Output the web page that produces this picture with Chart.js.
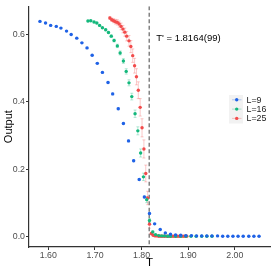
<!DOCTYPE html>
<html><head><meta charset="utf-8">
<script src="https://cdn.jsdelivr.net/npm/chart.js@4/dist/chart.umd.min.js"></script>
<style>html,body{margin:0;padding:0;background:#fff;}canvas{display:block;}</style>
</head><body>
<canvas id="c" width="273" height="273"></canvas>
<script>
const seriesLabels = ['L=9', 'L=16', 'L=25'];

const blueT = [1.582,1.594,1.605,1.617,1.627,1.639,1.649,1.661,1.672,1.683,1.694,1.705,1.716,1.728,1.738,1.750,1.761,1.772,1.783,1.795,1.806,1.817,1.828,1.840,1.851,1.862,1.873,1.884,1.895,1.907,1.918,1.929,1.940,1.951,1.963,1.974,1.985,1.996,2.007,2.018,2.030,2.041,2.052];
const blueOut = [0.640,0.635,0.628,0.625,0.620,0.611,0.601,0.590,0.576,0.561,0.539,0.515,0.488,0.458,0.424,0.380,0.336,0.284,0.225,0.169,0.117,0.068,0.037,0.020,0.010,0.006,0.004,0.003,0.002,0.002,0.001,0.001,0.001,0.001,0.001,0.000,0.000,0.000,0.000,0.000,0.000,0.000,0.000];
const blueErr = [0.001,0.001,0.001,0.001,0.001,0.001,0.001,0.001,0.001,0.002,0.002,0.002,0.002,0.002,0.003,0.003,0.003,0.003,0.003,0.003,0.003,0.003,0.002,0.001,0.001,0.001,0.001,0.001,0.001,0.001,0.001,0.001,0.001,0.001,0.001,0.001,0.001,0.001,0.001,0.001,0.001,0.001,0.001];

const greenT = [1.685,1.691,1.698,1.704,1.710,1.716,1.723,1.729,1.735,1.741,1.748,1.754,1.761,1.767,1.773,1.779,1.786,1.792,1.798,1.804,1.811,1.817,1.824,1.830,1.837,1.843,1.849,1.856,1.862,1.873,1.884,1.895,1.906,1.917,1.929,1.940,1.951];
const greenOut = [0.641,0.642,0.638,0.635,0.628,0.621,0.615,0.607,0.596,0.583,0.567,0.546,0.522,0.491,0.457,0.416,0.365,0.314,0.248,0.177,0.109,0.047,0.013,0.005,0.002,0.001,0.001,0.000,0.000,0.000,0.000,0.000,0.000,0.000,0.000,0.000,0.000];
const greenErr = [0.002,0.002,0.002,0.002,0.002,0.002,0.003,0.003,0.004,0.004,0.005,0.006,0.007,0.008,0.009,0.010,0.011,0.012,0.012,0.011,0.009,0.006,0.003,0.001,0.001,0.001,0.001,0.001,0.001,0.001,0.001,0.001,0.001,0.001,0.001,0.001,0.001];

const redT = [1.732,1.736,1.740,1.744,1.748,1.752,1.756,1.760,1.764,1.768,1.773,1.777,1.781,1.785,1.789,1.793,1.797,1.801,1.805,1.809,1.813,1.817,1.821,1.825,1.829,1.833,1.837,1.841,1.845,1.849,1.853,1.857,1.861,1.865,1.869,1.873,1.877,1.881,1.885,1.889,1.893,1.897];
const redOut = [0.650,0.645,0.642,0.639,0.637,0.632,0.625,0.617,0.608,0.596,0.582,0.565,0.538,0.508,0.475,0.435,0.384,0.323,0.260,0.187,0.114,0.036,0.008,0.003,0.001,0.001,0.000,0.000,0.000,0.000,0.000,0.000,0.000,0.000,0.000,0.000,0.000,0.000,0.000,0.000,0.000,0.000];
const redErr = [0.004,0.005,0.006,0.007,0.008,0.009,0.010,0.011,0.012,0.014,0.016,0.018,0.020,0.022,0.024,0.025,0.026,0.027,0.027,0.025,0.020,0.012,0.004,0.002,0.001,0.001,0.001,0.001,0.001,0.001,0.001,0.001,0.001,0.001,0.001,0.001,0.001,0.001,0.001,0.001,0.001,0.001];

const xTicks = [1.60, 1.70, 1.80, 1.90, 2.00];
const yTicks = [0.0, 0.2, 0.4, 0.6];
const tPrime = 1.8164;
const tPrimeLabel = "T' = 1.8164(99)";
const labelOutputAt = 0.589;

const colors = ['#1f62e6', '#14b87c', '#f24b4b'];
const errColors = ['rgba(31,98,230,0.3)', 'rgba(20,184,124,0.3)', 'rgba(242,75,75,0.3)'];
const FONT = "'Liberation Sans', Arial, sans-serif";

function mk(T, O, E) { return T.map((t, i) => ({x: t, y: O[i], e: E[i]})); }
const series = [mk(blueT, blueOut, blueErr), mk(greenT, greenOut, greenErr), mk(redT, redOut, redErr)];

const extras = {
  id: 'extras',
  beforeDatasetsDraw(chart) {
    const {ctx, chartArea: a, scales: {x, y}} = chart;
    ctx.save();
    ctx.beginPath(); ctx.rect(a.left, a.top, a.right - a.left, a.bottom - a.top); ctx.clip();
    // error bars
    chart.data.datasets.forEach((ds, i) => {
      ctx.strokeStyle = errColors[i]; ctx.lineWidth = 1;
      ds.data.forEach(p => {
        if (!p.e) return;
        const px = x.getPixelForValue(p.x);
        const y1 = y.getPixelForValue(p.y - p.e), y2 = y.getPixelForValue(p.y + p.e);
        ctx.beginPath();
        ctx.moveTo(px, y1); ctx.lineTo(px, y2);
        ctx.moveTo(px - 1.5, y1); ctx.lineTo(px + 1.5, y1);
        ctx.moveTo(px - 1.5, y2); ctx.lineTo(px + 1.5, y2);
        ctx.stroke();
      });
    });
    // dashed vertical line
    const vx = x.getPixelForValue(tPrime);
    ctx.strokeStyle = '#7a7a7a'; ctx.lineWidth = 1.4; ctx.setLineDash([4, 2.5]);
    ctx.beginPath(); ctx.moveTo(vx, a.top); ctx.lineTo(vx, a.bottom); ctx.stroke();
    ctx.restore();
  },
  afterDatasetsDraw(chart) {
    const {ctx, scales: {x, y}} = chart;
    ctx.save();
    ctx.fillStyle = '#000';
    ctx.font = '9.5px ' + FONT;
    ctx.textAlign = 'left'; ctx.textBaseline = 'middle';
    ctx.fillText(tPrimeLabel, x.getPixelForValue(tPrime) + 7, y.getPixelForValue(labelOutputAt));
    // legend
    const lx = 229, ly = 95, rowH = 9.3;
    ctx.fillStyle = '#f2f2f2';
    ctx.fillRect(lx, ly, 14, 28.5);
    chart.data.datasets.forEach((ds, i) => {
      const cy = ly + 4.8 + i * rowH;
      ctx.strokeStyle = errColors[i]; ctx.lineWidth = 1;
      ctx.beginPath(); ctx.moveTo(lx + 3, cy); ctx.lineTo(lx + 12.5, cy); ctx.stroke();
      ctx.fillStyle = colors[i];
      ctx.beginPath(); ctx.arc(lx + 7.7, cy, 1.7, 0, Math.PI * 2); ctx.fill();
      ctx.fillStyle = '#1a1a1a';
      ctx.font = '8.8px ' + FONT;
      ctx.fillText(ds.label, lx + 17.5, cy + 0.5);
    });
    ctx.restore();
  }
};

new Chart(document.getElementById('c'), {
  type: 'scatter',
  data: {
    datasets: series.map((d, i) => ({
      label: seriesLabels[i], data: d,
      backgroundColor: colors[i], borderColor: colors[i],
      pointRadius: 1.7, pointBorderWidth: 0, pointHoverRadius: 1.7, showLine: false
    }))
  },
  options: {
    responsive: false, animation: false, devicePixelRatio: 1,
    layout: {padding: {left: 0, top: 3, right: 3, bottom: 0}},
    plugins: {legend: {display: false}, tooltip: {enabled: false}},
    scales: {
      x: {
        type: 'linear', min: 1.5585, max: 2.0755,
        afterBuildTicks: s => { s.ticks = xTicks.map(v => ({value: v})); },
        afterFit: s => { s.height = 26; },
        ticks: {callback: v => Number(v).toFixed(2), color: '#4d4d4d', font: {family: FONT, size: 8.8}, padding: 0, maxRotation: 0, autoSkip: false},
        grid: {drawOnChartArea: false, drawTicks: true, tickLength: 3, color: '#333', lineWidth: 1},
        border: {display: true, color: '#333', width: 1.2},
        title: {display: true, text: 'T', color: '#000', font: {family: FONT, size: 11.5}, padding: {top: 0, bottom: 3}}
      },
      y: {
        type: 'linear', min: -0.032, max: 0.685,
        afterBuildTicks: s => { s.ticks = yTicks.map(v => ({value: v})); },
        afterFit: s => { s.width = 29; },
        ticks: {callback: v => Number(v).toFixed(1), color: '#4d4d4d', font: {family: FONT, size: 8.8}, padding: 1},
        grid: {drawOnChartArea: false, drawTicks: true, tickLength: 3, color: '#333', lineWidth: 1},
        border: {display: true, color: '#333', width: 1.2},
        title: {display: true, text: 'Output', color: '#000', font: {family: FONT, size: 11}, padding: {top: 2, bottom: 0}}
      }
    }
  },
  plugins: [extras]
});
</script>
</body></html>
